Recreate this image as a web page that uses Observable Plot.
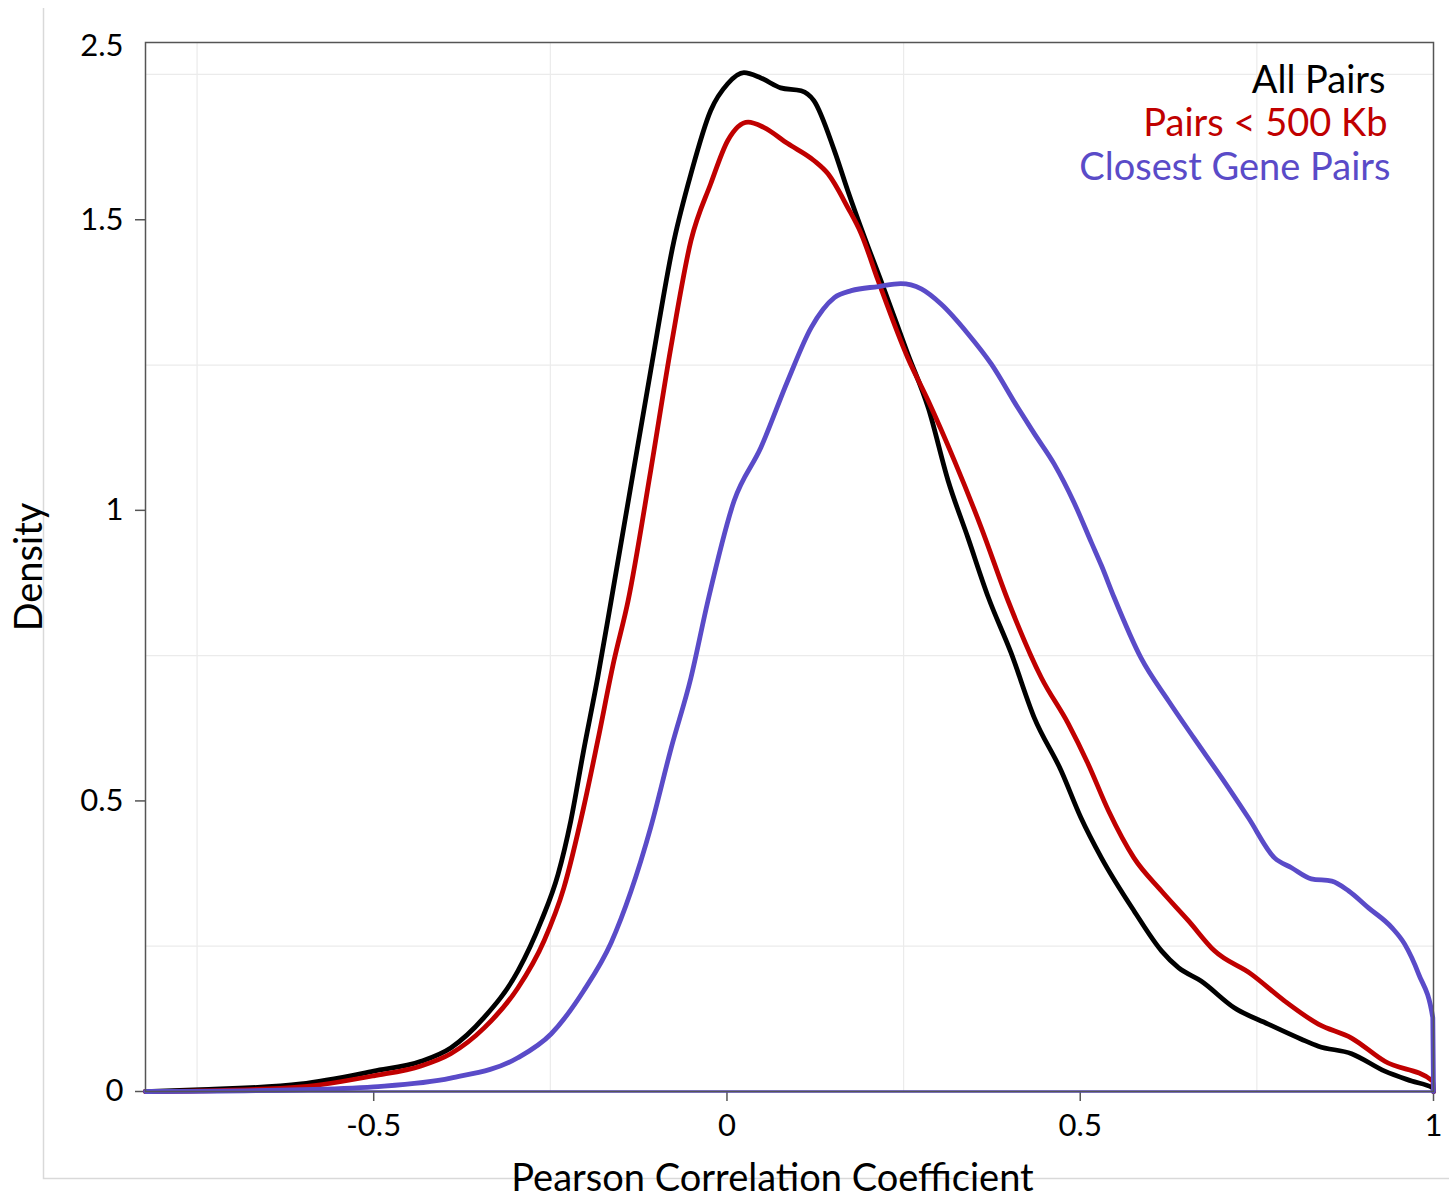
<!DOCTYPE html>
<html>
<head>
<meta charset="utf-8">
<script src="https://cdn.jsdelivr.net/npm/d3@7"></script>
<script src="https://cdn.jsdelivr.net/npm/@observablehq/plot@0.6"></script>
<style>
  html, body { margin: 0; padding: 0; background: #fff; }
  #chart { width: 1449px; height: 1197px; }
</style>
</head>
<body>
<div id="chart"></div>
<script>
// ---- Data ----
const seriesNames = ["All Pairs", "Pairs < 500 Kb", "Closest Gene Pairs"];
const seriesColors = ["#000000", "#c00000", "#5a4bc8"];

const allX = [-0.823, -0.745, -0.603, -0.5, -0.433, -0.391, -0.344, -0.296, -0.263, -0.239, -0.221, -0.203, -0.183, -0.164, -0.136, -0.108, -0.075, -0.051, -0.023, 0.001, 0.024, 0.048, 0.076, 0.105, 0.123, 0.152, 0.171, 0.194, 0.218, 0.256, 0.285, 0.313, 0.341, 0.370, 0.402, 0.435, 0.473, 0.501, 0.530, 0.576, 0.615, 0.639, 0.671, 0.718, 0.766, 0.813, 0.837, 0.884, 0.931, 0.969, 0.999, 1.0];
const allY = [0, 0.003, 0.013, 0.035, 0.052, 0.075, 0.127, 0.207, 0.293, 0.374, 0.466, 0.586, 0.712, 0.844, 1.042, 1.240, 1.464, 1.579, 1.688, 1.734, 1.753, 1.744, 1.727, 1.722, 1.705, 1.619, 1.550, 1.472, 1.395, 1.269, 1.176, 1.051, 0.953, 0.850, 0.755, 0.643, 0.552, 0.471, 0.402, 0.311, 0.242, 0.213, 0.190, 0.144, 0.116, 0.090, 0.078, 0.065, 0.035, 0.018, 0.006, 0];

const nearX = [-0.823, -0.745, -0.603, -0.5, -0.433, -0.391, -0.344, -0.296, -0.259, -0.231, -0.203, -0.183, -0.160, -0.140, -0.108, -0.079, -0.051, -0.023, 0.001, 0.030, 0.052, 0.086, 0.123, 0.143, 0.171, 0.190, 0.214, 0.256, 0.285, 0.322, 0.360, 0.398, 0.445, 0.483, 0.511, 0.540, 0.576, 0.615, 0.653, 0.690, 0.742, 0.789, 0.837, 0.884, 0.931, 0.999, 1.0];
const nearY = [0, 0.001, 0.008, 0.027, 0.044, 0.065, 0.109, 0.178, 0.259, 0.350, 0.488, 0.603, 0.741, 0.844, 1.068, 1.283, 1.464, 1.562, 1.636, 1.668, 1.659, 1.631, 1.602, 1.579, 1.521, 1.476, 1.395, 1.262, 1.188, 1.085, 0.970, 0.844, 0.712, 0.633, 0.564, 0.483, 0.402, 0.345, 0.294, 0.242, 0.202, 0.156, 0.116, 0.092, 0.052, 0.018, 0];

const closeX = [-0.823, -0.603, -0.5, -0.391, -0.296, -0.249, -0.203, -0.164, -0.136, -0.108, -0.079, -0.051, -0.027, 0.010, 0.048, 0.086, 0.119, 0.152, 0.176, 0.214, 0.246, 0.275, 0.303, 0.341, 0.374, 0.412, 0.435, 0.463, 0.491, 0.516, 0.530, 0.548, 0.586, 0.625, 0.661, 0.700, 0.738, 0.775, 0.799, 0.827, 0.856, 0.880, 0.908, 0.941, 0.959, 0.979, 0.999, 1.0];
const closeY = [0, 0.003, 0.008, 0.023, 0.058, 0.099, 0.173, 0.256, 0.344, 0.454, 0.591, 0.712, 0.844, 1.016, 1.108, 1.223, 1.314, 1.366, 1.378, 1.385, 1.390, 1.381, 1.355, 1.304, 1.252, 1.176, 1.132, 1.080, 1.014, 0.944, 0.905, 0.850, 0.746, 0.672, 0.608, 0.540, 0.471, 0.402, 0.385, 0.366, 0.362, 0.345, 0.316, 0.282, 0.254, 0.202, 0.127, 0];

const xTicks = [-0.5, 0, 0.5, 1];
const yTicks = [0, 0.5, 1, 1.5];
const xGrid = [-0.75, -0.25, 0.25, 0.75];
const yGrid = [0.25, 0.75, 1.25, 1.75];
const yTopLabel = "2.5";
const xTitle = "Pearson Correlation Coefficient";
const yTitle = "Density";
const xDomain = [-0.823, 1];
const yDomain = [0, 1.805];

// ---- Build tidy table ----
const toRows = (xs, ys, s) => xs.map((x, i) => ({x, y: ys[i], series: s}));
const rowsAll = toRows(allX, allY, seriesNames[0]);
const rowsNear = toRows(nearX, nearY, seriesNames[1]);
const rowsClose = toRows(closeX, closeY, seriesNames[2]);

const FONT = "Lato, 'Noto Sans', sans-serif";
const LW = 4.8;
const CURVE = "monotone-x";
const TICK_FS = 31;
const TITLE_FS = 38;

const plot = Plot.plot({
  width: 1449,
  height: 1197,
  marginLeft: 145,
  marginRight: 16,
  marginTop: 42,
  marginBottom: 106,
  style: { fontFamily: FONT, background: "#fff", overflow: "visible" },
  x: { domain: xDomain },
  y: { domain: yDomain },
  marks: [
    Plot.gridX(xGrid, { stroke: "#ebebeb", strokeOpacity: 1, strokeWidth: 1.2 }),
    Plot.gridY(yGrid, { stroke: "#ebebeb", strokeOpacity: 1, strokeWidth: 1.2 }),
    Plot.axisX(xTicks, { tickSize: 10, tickPadding: 12, fontSize: TICK_FS, stroke: "#555", strokeWidth: 1.5, fill: "#000", label: null, tickFormat: d => String(d) }),
    Plot.axisY(yTicks, { tickSize: 10, tickPadding: 12, fontSize: TICK_FS, stroke: "#555", strokeWidth: 1.5, fill: "#000", label: null, tickFormat: d => String(d) }),
    Plot.axisY([yDomain[1]], { tickSize: 0, tickPadding: 22, fontSize: TICK_FS, fill: "#000", label: null, dy: 4, tickFormat: () => yTopLabel }),
    Plot.line(rowsAll, { x: "x", y: "y", stroke: seriesColors[0], strokeWidth: LW, curve: CURVE }),
    Plot.line(rowsNear, { x: "x", y: "y", stroke: seriesColors[1], strokeWidth: LW, curve: CURVE }),
    Plot.line(rowsClose, { x: "x", y: "y", stroke: seriesColors[2], strokeWidth: LW, curve: CURVE }),
    Plot.ruleY([0], { stroke: seriesColors[2], strokeWidth: 2.5 }),
    Plot.frame({ stroke: "#555", strokeWidth: 1.5 }),
    // legend text
    Plot.text([seriesNames[0]], { frameAnchor: "top-right", text: d => d, fill: seriesColors[0], dx: -48, dy: 38, fontSize: TITLE_FS, textAnchor: "end", lineAnchor: "middle" }),
    Plot.text([seriesNames[1]], { frameAnchor: "top-right", text: d => d, fill: seriesColors[1], dx: -46, dy: 81, fontSize: TITLE_FS, textAnchor: "end", lineAnchor: "middle" }),
    Plot.text([seriesNames[2]], { frameAnchor: "top-right", text: d => d, fill: seriesColors[2], dx: -43, dy: 125, fontSize: TITLE_FS, textAnchor: "end", lineAnchor: "middle" }),
    // axis titles
    Plot.text([xTitle], { frameAnchor: "bottom", text: d => d, fill: "#000", dx: -17, dy: 87, fontSize: TITLE_FS, textAnchor: "middle", lineAnchor: "middle" }),
    Plot.text([yTitle], { frameAnchor: "left", text: d => d, fill: "#000", dx: -116, rotate: -90, fontSize: TITLE_FS, textAnchor: "middle", lineAnchor: "middle" })
  ]
});
// light outer panel border (decorative)
d3.select(plot).insert("path", ":first-child")
  .attr("d", "M43.5,8V1178.5H1449")
  .attr("fill", "none")
  .attr("stroke", "#d9d9d9")
  .attr("stroke-width", 1.5);
document.getElementById("chart").appendChild(plot);
</script>
</body>
</html>
